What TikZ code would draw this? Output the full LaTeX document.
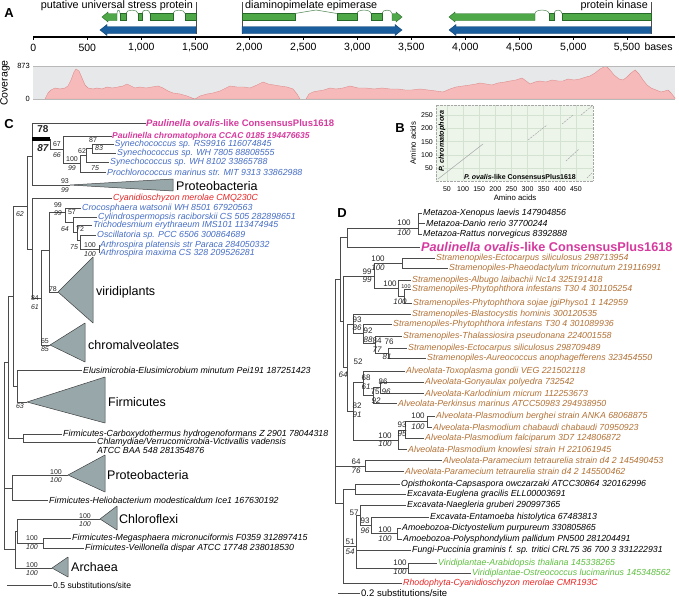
\documentclass[tikz,border=0pt]{standalone}
\usepackage{fontspec}
\setmainfont{Liberation Sans}
\usepackage{xcolor}
\usetikzlibrary{arrows.meta, positioning, calc}

\definecolor{treegray}{RGB}{75,75,75}
\definecolor{paulpink}{RGB}{214,58,158}
\definecolor{cyanoblue}{RGB}{68,108,196}
\definecolor{rhodored}{RGB}{232,36,36}
\definecolor{chromobrown}{RGB}{178,112,52}
\definecolor{viridgreen}{RGB}{92,190,62}
\definecolor{cladefill}{RGB}{152,168,170}
\definecolor{exongreen}{RGB}{78,168,72}
\definecolor{exonedge}{RGB}{38,104,40}
\definecolor{cdsblue}{RGB}{26,94,158}
\definecolor{covpink}{RGB}{247,186,186}
\definecolor{covedge}{RGB}{222,140,140}
\definecolor{covbg}{RGB}{231,232,234}
\definecolor{dotbg}{RGB}{237,245,235}
\definecolor{dotgrid}{RGB}{212,226,210}

% parent |- child for every child
\newcommand\kids[2]{\foreach \kd in {#2} {\draw[br] (#1) |- (\kd);}}

\begin{document}
\begin{tikzpicture}[x=1pt, y=-1pt,
    br/.style={draw=treegray, line width=0.6pt},
    thickbar/.style={draw=black, line width=4.5pt},
    leaf/.style={font=\fontsize{8.8}{9}\selectfont\itshape, anchor=west, inner sep=1pt},
    boot/.style={font=\fontsize{7}{7}\selectfont, inner sep=0pt, text=black!85},
    booti/.style={font=\fontsize{7}{7}\selectfont\itshape, inner sep=0pt, text=black!85},
    dboot/.style={font=\fontsize{8}{8}\selectfont, inner sep=0pt, text=black!85},
    dbooti/.style={font=\fontsize{8}{8}\selectfont\itshape, inner sep=0pt, text=black!85},
    grp/.style={font=\fontsize{12.5}{13}\selectfont, anchor=west, inner sep=1pt},
    clade/.style={draw=black!75, fill=cladefill, line width=0.5pt, line join=round},
    letter/.style={font=\fontsize{13}{13}\selectfont\bfseries, inner sep=0pt},
    glabel/.style={font=\fontsize{10.8}{11}\selectfont, inner sep=1pt},
    axlabel/.style={font=\fontsize{10.5}{11}\selectfont, inner sep=1pt},
    plotlab/.style={font=\fontsize{7}{7}\selectfont, inner sep=1pt},
    exon/.style={fill=exongreen, draw=exonedge, line width=0.4pt},
    cds/.style={fill=cdsblue, draw=cdsblue!70!black, line width=0.4pt},
    intron/.style={draw=exonedge!80, line width=0.5pt}]
\useasboundingbox (0,0) rectangle (679,597);

% ================= A
\node[letter] (lA) at (9,13) {A};
\node[glabel, anchor=east] (g1) at (194,6) {putative universal stress protein};
\node[glabel, anchor=west] (g2) at (244,6) {diaminopimelate epimerase};
\node[glabel, anchor=east] (g3) at (649,6) {protein kinase};
\draw[gray!60!black, line width=0.6pt] (196,2) -- (196,34) (242,2) -- (242,34) (651,2) -- (651,34);

% exons
\filldraw[exon] (102,17) -- (108,12) -- (108,13.5) -- (117,13.5) -- (117,20.5) -- (108,20.5) -- (108,22) -- cycle;
\foreach \a/\b in {120/126,138/142,150/173,185/196,242/295,337/357,371/382,562/651,549/554}
  \filldraw[exon] (\a,13.5) rectangle (\b,20.5);
\filldraw[exon] (392,13.5) -- (396,13.5) -- (396,12) -- (402,17) -- (396,22) -- (396,20.5) -- (392,20.5) -- cycle;
\filldraw[exon] (449,17) -- (455,12) -- (455,13.5) -- (535,13.5) -- (535,20.5) -- (455,20.5) -- (455,22) -- cycle;
% introns
\foreach \a/\b in {117/120,126/138,142/150,173/185,357/371,382/392,535/549,554/562}
  \draw[intron] (\a,13.5) .. controls (\a,9) and (\b,9) .. (\b,13.5);
\draw[intron] (295,13.5) -- (316,10) -- (337,13.5);
% coding sequences
\filldraw[cds] (100,30) -- (107,24.5) -- (107,26.5) -- (196,26.5) -- (196,33.5) -- (107,33.5) -- (107,35.5) -- cycle;
\filldraw[cds] (242,26.5) -- (395,26.5) -- (395,24.5) -- (402,30) -- (395,35.5) -- (395,33.5) -- (242,33.5) -- cycle;
\filldraw[cds] (449,30) -- (456,24.5) -- (456,26.5) -- (651,26.5) -- (651,33.5) -- (456,33.5) -- (456,35.5) -- cycle;

% axis
\draw[line width=1.2pt] (33,37) -- (675,37);
\foreach \v/\t in {0/0,500/500,1000/{1,000},1500/{1,500},2000/{2,000},2500/{2,500},3000/{3,000},3500/{3,500},4000/{4,000},4500/{4,500},5000/{5,000}} {
  \draw[line width=0.8pt] ({33.3+0.108*\v},37) -- ++(0,3);
  \node[axlabel] (ax\v) at ({33.3+0.108*\v},48) {\t};
}
\draw[line width=0.8pt] (627,37) -- ++(0,3);
\node[axlabel] (ax5500) at (627,48) {5,500};
\node[axlabel, anchor=base west] (axb) at ([xshift=2pt]ax5500.base east) {bases};

% coverage
\fill[covbg] (33,66) rectangle (675,99);
\filldraw[fill=covpink, draw=covedge, line width=0.4pt] (45,99) -- (48,93) -- (51,90) -- (55,88) -- (60,89) -- (65,88) -- (68,86) -- (71,80) -- (74,72) -- (76,69) -- (79,71) -- (82,78) -- (85,85) -- (88,88) -- (93,89) -- (97,88) -- (102,89) -- (107,87) -- (112,88) -- (118,87) -- (123,86) -- (127,84) -- (131,86) -- (135,88) -- (140,87) -- (146,88) -- (152,87) -- (158,86) -- (163,88) -- (168,91) -- (173,93) -- (180,94) -- (187,96) -- (192,98) -- (195,99) -- (200,96) -- (207,94) -- (213,93) -- (220,91) -- (226,88) -- (230,86) -- (237,87) -- (244,87) -- (250,88) -- (257,85) -- (263,82) -- (268,84) -- (274,85) -- (280,86) -- (287,87) -- (293,89) -- (297,94) -- (300,99) -- cycle;
\filldraw[fill=covpink, draw=covedge, line width=0.4pt] (306,99) -- (309,94) -- (313,92) -- (318,91) -- (324,90) -- (330,88) -- (336,89) -- (343,88) -- (350,86) -- (358,88) -- (366,88) -- (374,89) -- (382,88) -- (390,89) -- (398,89) -- (405,90) -- (412,90) -- (420,89) -- (428,90) -- (436,91) -- (443,92) -- (450,89) -- (456,87) -- (463,86) -- (470,85) -- (476,84) -- (480,83) -- (486,84) -- (492,85) -- (498,83) -- (505,82) -- (510,81) -- (516,80) -- (522,78) -- (526,81) -- (530,84) -- (535,82) -- (540,81) -- (546,82) -- (552,80) -- (558,81) -- (563,81) -- (568,79) -- (574,80) -- (580,79) -- (586,77) -- (590,76) -- (595,73) -- (600,69) -- (606,66) -- (610,70) -- (614,75) -- (619,79) -- (623,80) -- (627,77) -- (631,73) -- (635,70) -- (639,74) -- (643,80) -- (647,85) -- (651,88) -- (656,90) -- (661,92) -- (665,91) -- (668,90) -- (671,93) -- (675,98) -- (675,99) -- cycle;
\draw[gray!55, line width=0.8pt] (33,66) -- (675,66) (33,99) -- (675,99);
\node[plotlab, font=\fontsize{7.5}{8}\selectfont, anchor=east] (c873) at (31,66) {873};
\node[plotlab, font=\fontsize{7.5}{8}\selectfont, anchor=east] (c0) at (31,99) {0};
\node[axlabel, rotate=90] (covl) at (5,83) {Coverage};

% ================= B
\node[letter] (lB) at (400,128) {B};
\fill[dotbg] (436,105) rectangle (593,181);
\foreach \a in {50,100,...,450} {
  \draw[dotgrid, line width=0.4pt] ({430.8+0.3225*\a},105) -- ({430.8+0.3225*\a},181);
  \node[plotlab] (bx\a) at ({430.8+0.3225*\a},189) {\a};
}
\foreach \a in {50,100,...,250} {
  \draw[dotgrid, line width=0.4pt] (436,{181.5-0.266*\a}) -- (593,{181.5-0.266*\a});
  \node[plotlab, anchor=east] (by\a) at (434,{181.5-0.266*\a}) {\a};
}
\draw[gray!70, densely dotted] (436,105) rectangle (593,181);
\draw[gray!70, line width=0.5pt] (438,179) -- (483,144);
\foreach \x/\y/\u/\w in {528/140/547/125, 562/124/573/115, 581/115/592/106, 566/161/579/149, 587/178/592/173}
  \draw[gray!70, line width=0.5pt, dashed, dash pattern=on 2pt off 1pt] (\x,\y) -- (\u,\w);
\node[plotlab, font=\fontsize{7.2}{7}\selectfont\bfseries\itshape, rotate=90] (pchr) at (442,141) {P. chromatophora};
\node[plotlab, font=\fontsize{7}{7}\selectfont\bfseries] (povl) at (520,177) {\textit{P. ovalis}-like ConsensusPlus1618};
\node[plotlab, font=\fontsize{7.8}{8}\selectfont] (bxt) at (515,198) {Amino acids};
\node[plotlab, font=\fontsize{7.8}{8}\selectfont, rotate=90] (byt) at (413,143) {Amino acids};

% ================= C
\node[letter] (lC) at (9,124) {C};
\node[leaf, inner sep=0pt, font=\fontsize{9.5}{10}\selectfont\bfseries, text=paulpink] (t-oval) at (146,123.5) {\textit{Paulinella ovalis}-like ConsensusPlus1618};
\node[leaf, inner sep=0pt, font=\fontsize{8.5}{9}\selectfont\bfseries\itshape, text=paulpink] (t-pchr) at (112,136.3) {Paulinella chromatophora CCAC 0185 194476635};
\node[leaf, inner sep=0.5pt, text=cyanoblue] (t-rs99) at (114,144) {Synechococcus sp. RS9916 116074845};
\node[leaf, text=cyanoblue] (t-wh78) at (116,153) {Synechococcus sp. WH 7805 88808555};
\node[leaf, text=cyanoblue] (t-wh81) at (109,162) {Synechococcus sp. WH 8102 33865788};
\node[leaf, text=cyanoblue] (t-proc) at (106,172) {Prochlorococcus marinus str. MIT 9313 33862988};
\node[leaf, text=rhodored] (t-cyme) at (112,198) {Cyanidioschyzon merolae CMQ230C};
\node[leaf, text=cyanoblue] (t-croc) at (81,208) {Crocosphaera watsonii WH 8501 67920563};
\node[leaf, text=cyanoblue] (t-cyli) at (97,217) {Cylindrospermopsis raciborskii CS 505 282898651};
\node[leaf, text=cyanoblue] (t-tric) at (92,225) {Trichodesmium erythraeum IMS101 113474945};
\node[leaf, text=cyanoblue] (t-osci) at (96,235) {Oscillatoria sp. PCC 6506 300864689};
\node[leaf, text=cyanoblue] (t-plat) at (99,245) {Arthrospira platensis str Paraca 284050332};
\node[leaf, text=cyanoblue] (t-maxi) at (99,253) {Arthrospira maxima CS 328 209526281};
\node[leaf] (t-elus) at (82,370) {Elusimicrobia-Elusimicrobium minutum Pei191 187251423};
\node[leaf] (t-carb) at (62,434) {Firmicutes-Carboxydothermus hydrogenoformans Z 2901 78044318};
\node[leaf, anchor=north west, align=left] (t-chla) at (96,437) {Chlamydiae/Verrucomicrobia-Victivallis vadensis\\ATCC BAA 548 281354876};
\coordinate (chl) at (96,442.5);
\node[leaf] (t-heli) at (48,500) {Firmicutes-Heliobacterium modesticaldum Ice1 167630192};
\node[leaf] (t-mega) at (71,538) {Firmicutes-Megasphaera micronuciformis F0359 312897415};
\node[leaf] (t-veil) at (84,548) {Firmicutes-Veillonella dispar ATCC 17748 238018530};

% collapsed clades
\coordinate (a-pro1) at (70,185);
\coordinate (a-viri) at (58,292);
\coordinate (a-chro) at (50,345);
\coordinate (a-firm) at (27,402);
\coordinate (a-pro2) at (68,475);
\coordinate (a-chlo) at (100,519);
\coordinate (a-arch) at (52,568);
\draw[clade] (a-pro1) -- (173,179) -- (173,191) -- cycle;
\draw[clade] (a-viri) -- (93,257) -- (93,323) -- cycle;
\draw[clade] (a-chro) -- (85,323) -- (85,362) -- cycle;
\draw[clade] (a-firm) -- (105,377) -- (105,423) -- cycle;
\draw[clade] (a-pro2) -- (105,455) -- (105,492) -- cycle;
\draw[clade] (a-chlo) -- (117,506) -- (117,530) -- cycle;
\draw[clade] (a-arch) -- (68,557) -- (68,577) -- cycle;
\node[grp] (g-pro1) at (175,186) {Proteobacteria};
\node[grp] (g-viri) at (95,292) {viridiplants};
\node[grp] (g-chro) at (87,345) {chromalveolates};
\node[grp] (g-firm) at (107,402) {Firmicutes};
\node[grp] (g-pro2) at (106,475) {Proteobacteria};
\node[grp] (g-chlo) at (118,519) {Chloroflexi};
\node[grp] (g-arch) at (70,567) {Archaea};

% internal nodes
\coordinate (c-r) at (4,454);
\coordinate (c-k) at (8,362);
\coordinate (c-e) at (13,296);
\coordinate (c-d) at (27,206);
\coordinate (c-n1) at (32,156);
\coordinate (c-p1) at (50,139);
\coordinate (c-p3) at (63,149);
\coordinate (c-p4) at (80,163);
\coordinate (c-p5) at (86,155);
\coordinate (c-p6) at (92,148);
\coordinate (c-cn) at (32,249);
\coordinate (c-a) at (41,298);
\coordinate (c-b) at (49,250);
\coordinate (c-q1) at (65,212);
\coordinate (c-q2) at (73,222);
\coordinate (c-q3) at (77,232);
\coordinate (c-q4) at (80,240);
\coordinate (c-q5) at (99,249);
\coordinate (c-f) at (17,386);
\coordinate (c-g) at (23,438);
\coordinate (c-p) at (12,488);
\coordinate (c-i) at (15,549);
\coordinate (c-j) at (17,531);
\coordinate (c-mv) at (43,543);

\kids{c-r}{c-k,c-p,c-i}
\kids{c-k}{c-e,c-g}
\kids{c-e}{c-d,c-f}
\kids{c-d}{c-n1,c-cn}
\kids{c-n1}{t-oval.west,c-p1,a-pro1}
\kids{c-p1}{c-p3}
\kids{c-p3}{t-pchr.west,c-p4}
\kids{c-p4}{c-p5,t-proc.west}
\kids{c-p5}{c-p6,t-wh81.west}
\kids{c-p6}{t-rs99.west,t-wh78.west}
\kids{c-cn}{t-cyme.west,c-a}
\kids{c-a}{c-b,a-chro}
\kids{c-b}{c-q1,a-viri}
\kids{c-q1}{t-croc.west,c-q2}
\kids{c-q2}{t-cyli.west,c-q3}
\kids{c-q3}{t-tric.west,c-q4}
\kids{c-q4}{t-osci.west,c-q5}
\kids{c-q5}{t-plat.west,t-maxi.west}
\kids{c-f}{t-elus.west,a-firm}
\kids{c-g}{t-carb.west,chl}
\kids{c-p}{a-pro2,t-heli.west}
\kids{c-i}{c-j,a-arch}
\kids{c-j}{a-chlo,c-mv}
\kids{c-mv}{t-mega.west,t-veil.west}
\draw[thickbar] (c-p1 -| c-n1) -- (c-p1);

\node[boot, font=\fontsize{10}{10}\selectfont\bfseries] (cb78) at (43,129) {78};
\node[boot, font=\fontsize{10}{10}\selectfont\bfseries\itshape] (cb87) at (43,148) {87};
\foreach \x/\y/\t [count=\i] in {57/144.5/67, 72/159/100, 82/151/62, 93/140/87, 65/181/93, 58/205/99, 72/212/57, 80/229/72, 90/245/100, 53/289/78, 35/298/84, 45/341/65, 56/472/100, 85/516/100, 32/538/100, 32/565/100}
  \node[boot] (cu\i) at (\x,\y) {\t};
\foreach \x/\y/\t [count=\i] in {57/155/66, 72/168/99, 95/168/75, 99/148/83, 65/190/99, 20/214/62, 58/213/99, 65/229/64, 74/247/75, 90/254/100, 35/307/61, 45/349/85, 20/406/63, 56/480/100, 85/524/100, 32/547/100, 32/573/100}
  \node[booti] (ci\i) at (\x,\y) {\t};

\coordinate (cs0) at (7,585);
\coordinate (cs1) at (52,585);
\draw[br] (cs0) -- (cs1);
\node[plotlab, font=\fontsize{8.6}{9}\selectfont, anchor=west] (cst) at (cs1) {0.5 substitutions/site};

% ================= D
\node[letter] (lD) at (342,213) {D};
\node[leaf] (t-xeno) at (422,213) {Metazoa-Xenopus laevis 147904856};
\node[leaf] (t-dani) at (425,223) {Metazoa-Danio rerio 37700244};
\node[leaf] (t-ratt) at (422,234) {Metazoa-Rattus norvegicus 8392888};
\node[leaf, font=\fontsize{12.7}{13}\selectfont\bfseries, text=paulpink] (t-dova) at (420,247) {\textit{Paulinella ovalis}-like ConsensusPlus1618};
\begin{scope}[every node/.append style={text=chromobrown}]
\node[leaf] (t-ect1) at (435,258) {Stramenopiles-Ectocarpus siliculosus 298713954};
\node[leaf] (t-phae) at (448,268) {Stramenopiles-Phaeodactylum tricornutum 219116991};
\node[leaf] (t-albu) at (411,280) {Stramenopiles-Albugo laibachii Nc14 325191418};
\node[leaf] (t-pin1) at (411,289) {Stramenopiles-Phytophthora infestans T30 4 301105254};
\node[leaf] (t-psoj) at (412,303) {Stramenopiles-Phytophthora sojae jgiPhyso1 1 142959};
\node[leaf] (t-blas) at (411,314) {Stramenopiles-Blastocystis hominis 300120535};
\node[leaf] (t-pin2) at (392,324) {Stramenopiles-Phytophthora infestans T30 4 301089936};
\node[leaf] (t-thal) at (402,336) {Stramenopiles-Thalassiosira pseudonana 224001558};
\node[leaf] (t-ect2) at (407,348) {Stramenopiles-Ectocarpus siliculosus 298709489};
\node[leaf] (t-aure) at (426,358) {Stramenopiles-Aureococcus anophagefferens 323454550};
\node[leaf] (t-toxo) at (405,371) {Alveolata-Toxoplasma gondii VEG 221502118};
\node[leaf] (t-gony) at (424,382) {Alveolata-Gonyaulax polyedra 732542};
\node[leaf] (t-karl) at (424,393) {Alveolata-Karlodinium micrum 112253673};
\node[leaf] (t-perk) at (397,403) {Alveolata-Perkinsus marinus ATCC50983 294938950};
\node[leaf] (t-berg) at (435,416) {Alveolata-Plasmodium berghei strain ANKA 68068875};
\node[leaf] (t-chab) at (432,427) {Alveolata-Plasmodium chabaudi chabaudi 70950923};
\node[leaf] (t-falc) at (424,438) {Alveolata-Plasmodium falciparum 3D7 124806872};
\node[leaf] (t-know) at (407,449) {Alveolata-Plasmodium knowlesi strain H 221061945};
\node[leaf] (t-par1) at (442,460) {Alveolata-Paramecium tetraurelia strain d4 2 145490453};
\node[leaf] (t-par2) at (404,471) {Alveolata-Paramecium tetraurelia strain d4 2 145500462};
\end{scope}
\node[leaf] (t-opis) at (400,484) {Opisthokonta-Capsaspora owczarzaki ATCC30864 320162996};
\node[leaf] (t-eugl) at (406,494) {Excavata-Euglena gracilis ELL00003691};
\node[leaf] (t-naeg) at (406,505) {Excavata-Naegleria gruberi 290997365};
\node[leaf] (t-enta) at (429,517) {Excavata-Entamoeba histolytica 67483813};
\node[leaf] (t-dict) at (401,528) {Amoebozoa-Dictyostelium purpureum 330805865};
\node[leaf] (t-poly) at (402,539) {Amoebozoa-Polysphondylium pallidum PN500 281204491};
\node[leaf] (t-fung) at (411,550) {Fungi-Puccinia graminis f. sp. tritici CRL75 36 700 3 331222931};
\node[leaf, text=viridgreen] (t-arab) at (437,563) {Viridiplantae-Arabidopsis thaliana 145338265};
\node[leaf, text=viridgreen] (t-ostr) at (471,573) {Viridiplantae-Ostreococcus lucimarinus 145348562};
\node[leaf, text=rhodored] (t-rhod) at (402,583) {Rhodophyta-Cyanidioschyzon merolae CMR193C};

\coordinate (d-m1) at (418,228);
\coordinate (d-m0) at (347,237);
\coordinate (d-s1) at (402,263);
\coordinate (d-s3) at (404,296);
\coordinate (d-s2) at (398,288);
\coordinate (d-s0) at (374,276);
\coordinate (d-t4) at (388,353);
\coordinate (d-t3) at (375,343);
\coordinate (d-t2) at (363,333);
\coordinate (d-t1) at (353,324);
\coordinate (d-v3) at (380,387);
\coordinate (d-v2) at (373,395);
\coordinate (d-v1) at (363,382);
\coordinate (d-x3) at (427,421);
\coordinate (d-x2) at (405,430);
\coordinate (d-x1) at (398,440);
\coordinate (d-w) at (353,411);
\coordinate (d-z2) at (347,367);
\coordinate (d-z1) at (343,321);
\coordinate (d-top) at (340,279);
\coordinate (d-y) at (365,466);
\coordinate (d-oe) at (355,489);
\coordinate (d-amo) at (397,533);
\coordinate (d-en) at (371,525);
\coordinate (d-ng) at (360,515);
\coordinate (d-vir) at (408,568);
\coordinate (d-r2) at (356,546);
\coordinate (d-r1) at (343,503);
\coordinate (d-r0) at (335,391);

\kids{d-r0}{d-top,d-y,d-r1}
\kids{d-top}{d-m0,d-z1}
\kids{d-m0}{d-m1,t-dova.west}
\kids{d-m1}{t-xeno.west,t-dani.west,t-ratt.west}
\kids{d-z1}{d-s0,d-z2}
\kids{d-s0}{d-s1,d-s2}
\kids{d-s1}{t-ect1.west,t-phae.west}
\kids{d-s2}{t-albu.west,d-s3}
\kids{d-s3}{t-pin1.west,t-psoj.west}
\kids{d-z2}{d-t1,d-w}
\kids{d-t1}{t-blas.west,d-t2}
\kids{d-t2}{t-pin2.west,d-t3}
\kids{d-t3}{t-thal.west,d-t4}
\kids{d-t4}{t-ect2.west,t-aure.west}
\kids{d-w}{d-v1,d-x1}
\kids{d-v1}{t-toxo.west,d-v2}
\kids{d-v2}{d-v3,t-perk.west}
\kids{d-v3}{t-gony.west,t-karl.west}
\kids{d-x1}{d-x2,t-know.west}
\kids{d-x2}{d-x3,t-falc.west}
\kids{d-x3}{t-berg.west,t-chab.west}
\kids{d-y}{t-par1.west,t-par2.west}
\kids{d-r1}{d-oe,d-r2,t-rhod.west}
\kids{d-oe}{t-opis.west,t-eugl.west}
\kids{d-r2}{d-ng,t-fung.west,d-vir}
\kids{d-ng}{t-naeg.west,d-en}
\kids{d-en}{t-enta.west,d-amo}
\kids{d-amo}{t-dict.west,t-poly.west}
\kids{d-vir}{t-arab.west,t-ostr.west}

\foreach \x/\y/\t [count=\i] in {404/223/100, 378/259/100, 367/272/99, 390/284/100, 357/320/93, 368/331/92, 377/341/84, 389/342/76, 358/362/52, 366/378/68, 383/382/86, 375/392/75, 357/406/82, 418/416/100, 402/425/93, 385/436/100, 356/462/64, 354/513/57, 365/521/93, 385/530/100, 350/542/51, 400/563/100}
  \node[dboot] (du\i) at (\x,\y) {\t};
\node[dboot, font=\fontsize{5.5}{6}\selectfont] (dsm) at (406,287) {100};
\foreach \x/\y/\t [count=\i] in {404/233/100, 378/268/100, 367/280/99, 400/302/100, 357/328/86, 368/340/88, 377/350/77, 387/357/81, 343/375/64, 366/387/61, 386/392/96, 376/401/92, 357/415/91, 418/427/100, 402/434/95, 385/444/100, 356/471/76, 365/531/96, 385/539/100, 350/552/54, 400/572/100}
  \node[dbooti] (di\i) at (\x,\y) {\t};

\coordinate (ds0) at (338,593);
\coordinate (ds1) at (360,593);
\draw[br] (ds0) -- (ds1);
\node[plotlab, font=\fontsize{9.5}{10}\selectfont, anchor=west] (dst) at (ds1) {0.2 substitutions/site};
\end{tikzpicture}
\end{document}
